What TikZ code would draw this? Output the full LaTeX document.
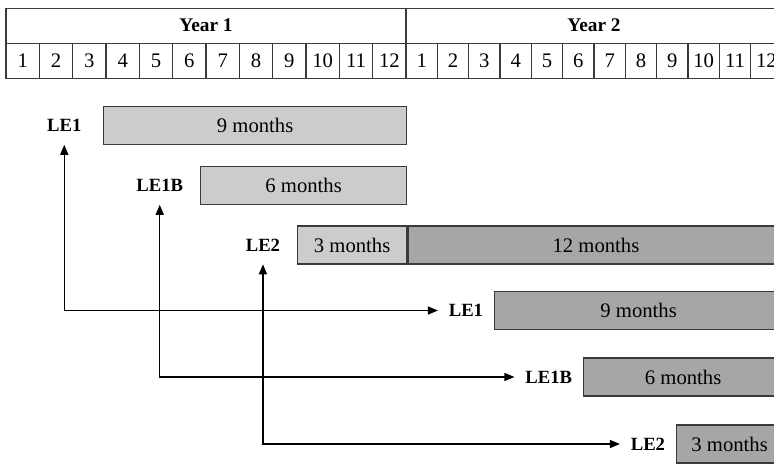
\documentclass[tikz,border=0pt]{standalone}
\usepackage{fontspec}
\setmainfont{Liberation Serif}
\usetikzlibrary{positioning,arrows.meta}

\definecolor{barlight}{HTML}{CCCCCC}
\definecolor{bardark}{HTML}{A6A6A6}
\definecolor{edge}{HTML}{3A3A3A}

\tikzset{
  cell/.style={draw=edge, line width=0.8pt, minimum height=26.25pt, inner sep=0pt, font=\fontsize{15.5}{17}\selectfont},
  bar/.style={draw=edge, line width=1pt, minimum height=28.5pt, inner sep=0pt, anchor=west, font=\fontsize{15.5}{17}\selectfont},
  lbl/.style={minimum height=28.5pt, inner xsep=8pt, inner ysep=0pt, font=\fontsize{14}{16}\selectfont\bfseries},
  link/.style={line width=1.1pt, {Triangle[length=7.5pt,width=6pt]}-{Triangle[length=7.5pt,width=6pt]}}
}

\begin{document}
\begin{tikzpicture}[x=0.75pt,y=0.75pt,yscale=-1,xscale=1]
        \useasboundingbox (0,0) rectangle (774,464);
        \clip (0,0) rectangle (774,464);

        %Table: years
        \node[cell, minimum width=300pt, font=\fontsize{14.5}{16}\selectfont\bfseries] (year1) at (206,25.67) {Year 1};
        \node[cell, minimum width=282pt, font=\fontsize{14.5}{16}\selectfont\bfseries] (year2) at (594,25.67) {Year 2};
        %Table: months
        \foreach \m in {1,...,12} {
            \node[cell, minimum width=25pt] (ma\m) at ({6+33.333*(\m-0.5)},60.67) {\m};
            \node[cell, minimum width=23.5pt] (mb\m) at ({406+31.333*(\m-0.5)},60.67) {\m};
        }

        %Bars: first start
        \node[bar, fill=barlight, minimum width=227.25pt] (bar1) at (103,125.5) {9 months};
        \node[bar, fill=barlight, minimum width=154.5pt] (bar2) at (200,185.5) {6 months};
        \node[bar, fill=barlight, minimum width=81.75pt] (bar3) at (297,245) {3 months};
        \node[bar, fill=bardark, minimum width=282pt, right=0pt of bar3] (bar4) {12 months};
        %Bars: second start
        \node[bar, fill=bardark, minimum width=216pt] (bar5) at (494,310.5) {9 months};
        \node[bar, fill=bardark, minimum width=149.25pt] (bar6) at (583,377) {6 months};
        \node[bar, fill=bardark, minimum width=79.5pt] (bar7) at (676,444) {3 months};

        %Labels
        \node[lbl, left=8pt of bar1] (le1) {LE1};
        \node[lbl, left=4.5pt of bar2] (le1b) {LE1B};
        \node[lbl, left=4.5pt of bar3] (le2) {LE2};
        \node[lbl, left=0pt of bar5] (le1r) {LE1};
        \node[lbl, left=0pt of bar6] (le1br) {LE1B};
        \node[lbl, left=0pt of bar7] (le2r) {LE2};

        %Links
        \draw[link] (le1.south) |- (le1r.west);
        \draw[link] (le1b.south) |- (le1br.west);
        \draw[link] (le2.south) |- (le2r.west);
    \end{tikzpicture}
\end{document}
